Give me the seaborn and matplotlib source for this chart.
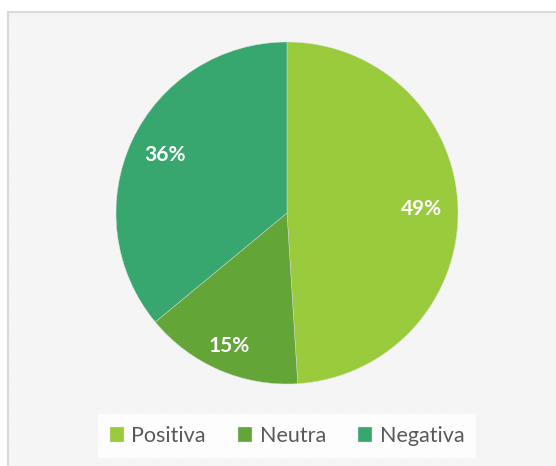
import matplotlib
matplotlib.use("Agg")
import matplotlib.pyplot as plt
from matplotlib.patches import Rectangle
import seaborn as sns

# sentiment shares
categories = ["Positiva", "Neutra", "Negativa"]
shares = [49, 15, 36]
colors = ["#9ACB3C", "#63A537", "#37A76F"]

sns.set_theme(style="white")
plt.rcParams["font.family"] = ["Lato", "DejaVu Sans"]
plt.rcParams["hatch.linewidth"] = 0.7

W, H = 556, 466
fig = plt.figure(figsize=(W / 100, H / 100), dpi=100)
fig.patch.set_facecolor("white")

# hatched chart area with light border on top / left
bg = Rectangle((8 / W, 0), 1 - 8 / W, 1 - 12 / H, transform=fig.transFigure,
               facecolor="white", edgecolor="#f2f2f2", hatch="\\" * 18,
               linewidth=0, zorder=-10)
fig.add_artist(bg)
fig.add_artist(plt.Line2D([8 / W, 1], [1 - 12 / H, 1 - 12 / H], color="#d9d9d9", lw=1.5,
                          transform=fig.transFigure, zorder=-5))
fig.add_artist(plt.Line2D([8 / W, 8 / W], [0, 1 - 12 / H], color="#d9d9d9", lw=1.5,
                          transform=fig.transFigure, zorder=-5))

cx, cy, r = 287, 213, 171
ax = fig.add_axes([(cx - r) / W, (H - cy - r) / H, 2 * r / W, 2 * r / H])
ax.set_facecolor("none")
ax.set_zorder(2)

wedges, texts, autotexts = ax.pie(
    shares, colors=sns.color_palette(colors), startangle=90, counterclock=False,
    autopct="%1.0f%%", pctdistance=0.79,
    wedgeprops=dict(linewidth=0.3, edgecolor="#dddddd"),
    textprops=dict(color="white", fontsize=15, fontweight="bold"))
# Neutra label sits a bit further out
x, y = autotexts[1].get_position()
autotexts[1].set_position((x * 0.85 / 0.79, y * 0.85 / 0.79))
ax.set_xlim(-1, 1)
ax.set_ylim(-1, 1)
ax.set_aspect("equal")

leg = fig.legend(wedges, categories, loc="center", ncol=3,
                 bbox_to_anchor=(cx / W, 1 - 436 / H), fontsize=15.5,
                 frameon=True, fancybox=False, facecolor="white", edgecolor="none",
                 framealpha=0.85, handlelength=0.65, handleheight=0.65,
                 handletextpad=0.35, columnspacing=1.5, borderpad=0.55)
leg.set_zorder(3)
for t in leg.get_texts():
    t.set_color("#595959")

fig.savefig("out.png", dpi=100)
